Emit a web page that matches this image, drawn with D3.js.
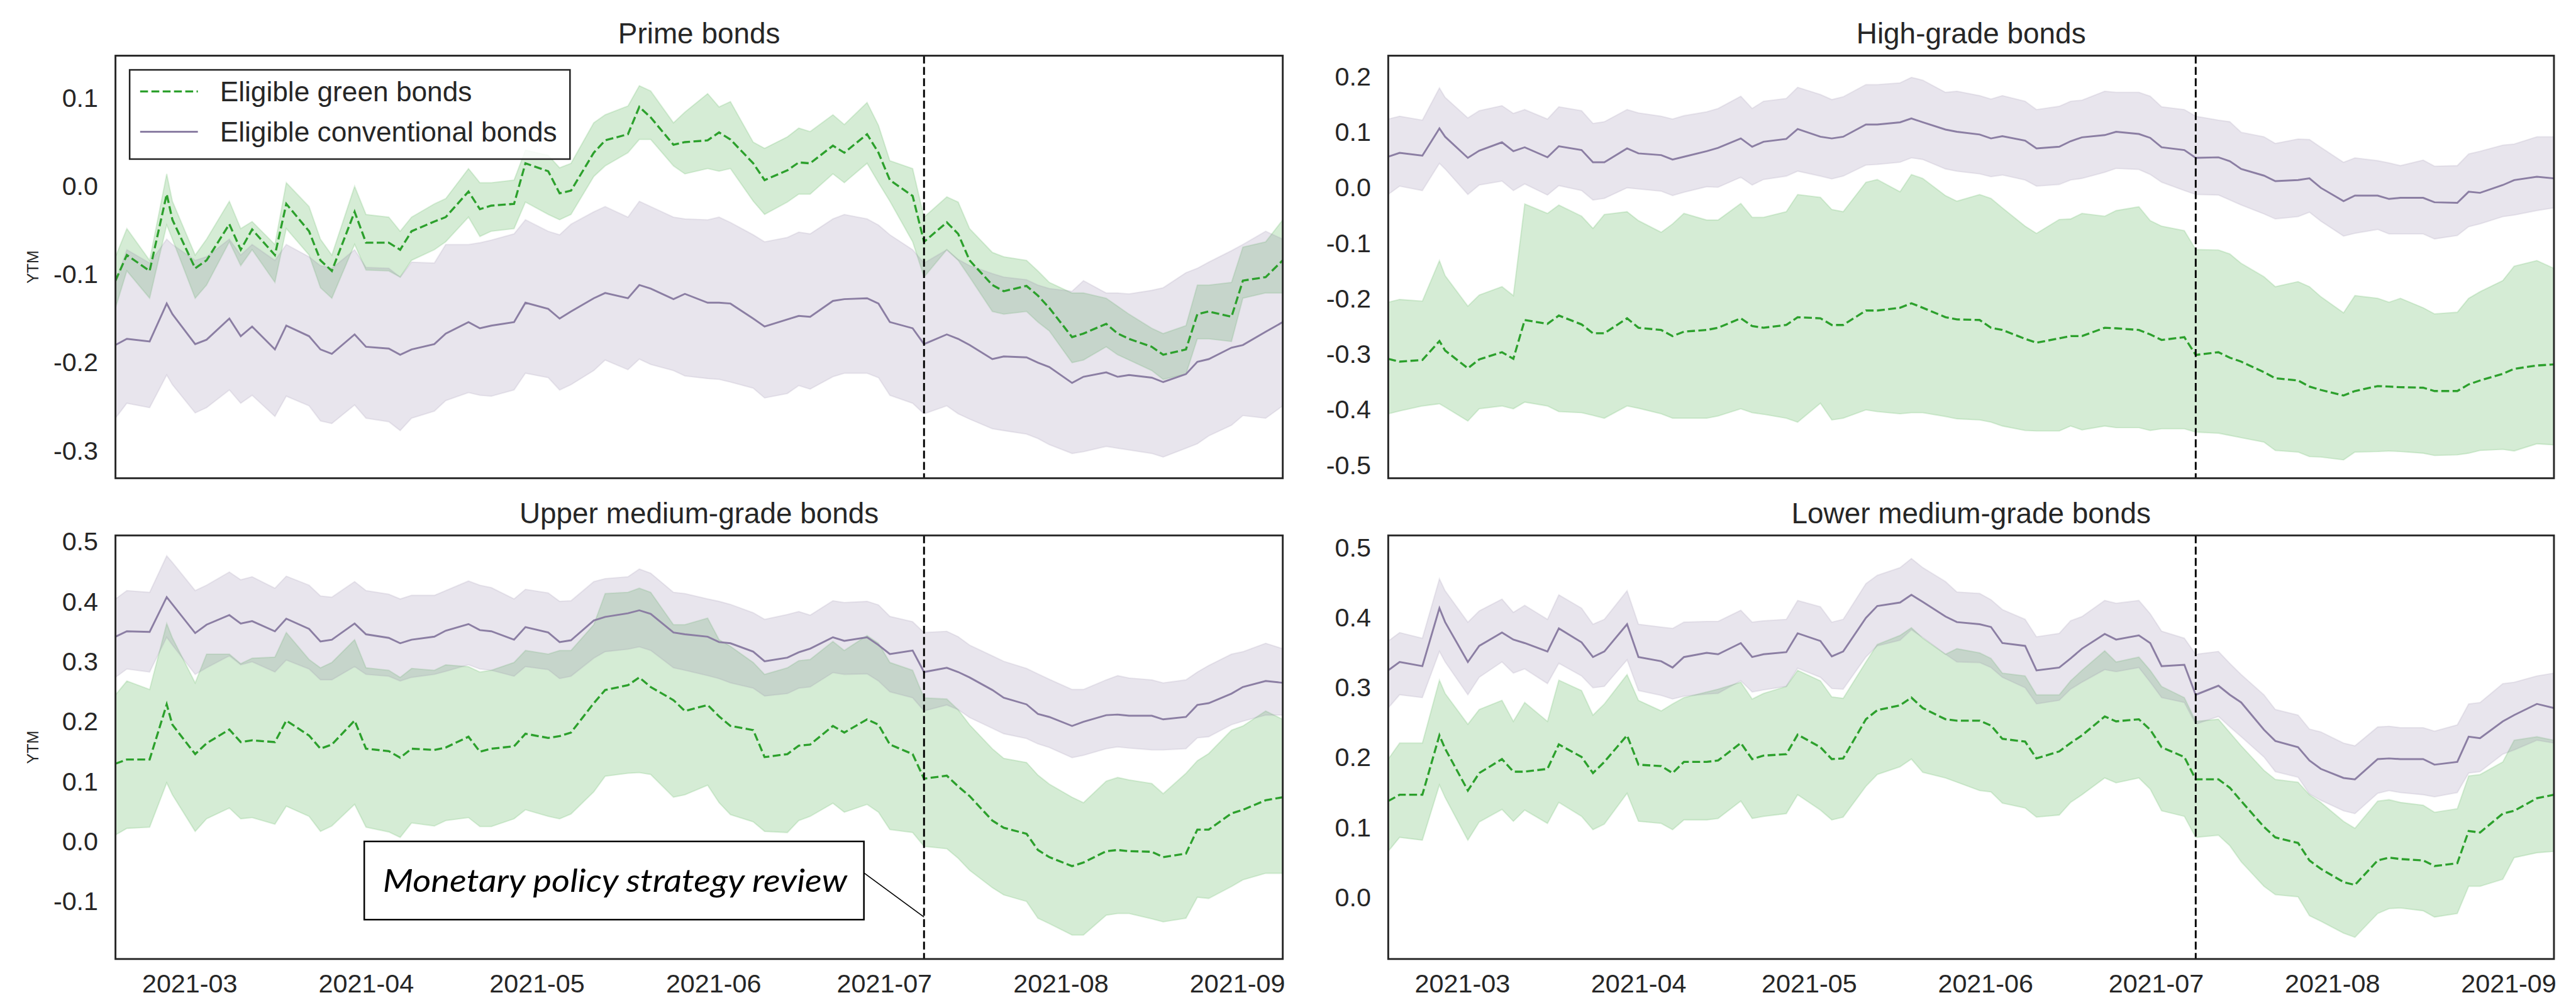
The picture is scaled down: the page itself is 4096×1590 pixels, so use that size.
<!DOCTYPE html>
<html>
<head>
<meta charset="utf-8">
<script src="https://cdn.jsdelivr.net/npm/d3@7"></script>
<style>
  body { margin: 0; background: #fff; }
  svg { display: block; }
</style>
</head>
<body>
<div id="chart"></div>
<script>
// sampled trading days (every other business day)
const dates = [
  '2021-02-16','2021-02-18','2021-02-22','2021-02-25','2021-02-26',
  '2021-03-02','2021-03-04','2021-03-08','2021-03-10','2021-03-12','2021-03-16','2021-03-18','2021-03-22','2021-03-24','2021-03-26','2021-03-30',
  '2021-04-01','2021-04-05','2021-04-07','2021-04-09','2021-04-13','2021-04-15','2021-04-19','2021-04-21','2021-04-23','2021-04-27','2021-04-29',
  '2021-05-03','2021-05-05','2021-05-07','2021-05-11','2021-05-13','2021-05-17','2021-05-19','2021-05-21','2021-05-25','2021-05-27','2021-05-31',
  '2021-06-02','2021-06-04','2021-06-08','2021-06-10','2021-06-14','2021-06-16','2021-06-18','2021-06-22','2021-06-24','2021-06-28','2021-06-30',
  '2021-07-02','2021-07-06','2021-07-08','2021-07-12','2021-07-14','2021-07-16','2021-07-20','2021-07-22','2021-07-26','2021-07-28','2021-07-30',
  '2021-08-03','2021-08-05','2021-08-09','2021-08-11','2021-08-13','2021-08-17','2021-08-19','2021-08-23','2021-08-25','2021-08-27','2021-08-31',
  '2021-09-02','2021-09-06','2021-09-09'
];
const monthTicks = ['2021-03-01','2021-04-01','2021-05-01','2021-06-01','2021-07-01','2021-08-01','2021-09-01'];
const policyDate = '2021-07-08';
const seriesNames = ['Eligible green bonds', 'Eligible conventional bonds'];
const panelTitles = ['Prime bonds', 'High-grade bonds', 'Upper medium-grade bonds', 'Lower medium-grade bonds'];
const annotationText = 'Monetary policy strategy review';

// Prime bonds
const primeGreenMean = [-0.107,-0.078,-0.096,-0.009,-0.038,
  -0.093,-0.084,-0.043,-0.072,-0.049,-0.078,-0.020,-0.051,-0.084,-0.096,-0.029,
  -0.064,-0.064,-0.072,-0.051,-0.040,-0.035,-0.006,-0.026,-0.022,-0.020,0.026,
  0.017,-0.008,-0.005,0.038,0.052,0.059,0.090,0.078,0.047,0.050,0.052,
  0.061,0.053,0.026,0.007,0.018,0.027,0.026,0.046,0.038,0.059,0.038,
  0.007,-0.011,-0.063,-0.041,-0.054,-0.084,-0.112,-0.119,-0.113,-0.124,-0.138,
  -0.171,-0.167,-0.156,-0.167,-0.173,-0.182,-0.191,-0.185,-0.145,-0.142,-0.148,
  -0.107,-0.103,-0.084];
const primeGreenHi = [-0.080,-0.048,-0.084,0.014,-0.017,
  -0.078,-0.060,-0.017,-0.048,-0.040,-0.066,0.004,-0.023,-0.060,-0.078,0.000,
  -0.032,-0.035,-0.051,-0.035,-0.020,-0.014,0.020,0.004,0.004,0.007,0.041,
  0.035,0.021,0.026,0.072,0.081,0.091,0.114,0.108,0.072,0.084,0.105,
  0.090,0.096,0.050,0.043,0.056,0.066,0.062,0.081,0.070,0.095,0.069,
  0.029,0.020,-0.035,-0.012,-0.018,-0.048,-0.075,-0.080,-0.084,-0.096,-0.109,
  -0.121,-0.121,-0.127,-0.136,-0.145,-0.161,-0.167,-0.158,-0.112,-0.112,-0.109,
  -0.069,-0.063,-0.038];
const primeGreenLo = [-0.138,-0.096,-0.127,-0.044,-0.060,
  -0.127,-0.112,-0.063,-0.090,-0.072,-0.109,-0.048,-0.078,-0.115,-0.127,-0.066,
  -0.095,-0.096,-0.103,-0.084,-0.072,-0.063,-0.035,-0.057,-0.051,-0.048,-0.018,
  -0.032,-0.038,-0.032,0.011,0.023,0.038,0.053,0.053,0.023,0.014,0.020,
  0.017,0.020,-0.017,-0.032,-0.018,-0.009,-0.009,0.014,0.004,0.026,0.004,
  -0.017,-0.063,-0.103,-0.072,-0.084,-0.103,-0.142,-0.145,-0.142,-0.154,-0.164,
  -0.200,-0.197,-0.182,-0.191,-0.197,-0.209,-0.219,-0.213,-0.173,-0.173,-0.176,
  -0.127,-0.121,-0.121];
const primeConvMean = [-0.180,-0.173,-0.176,-0.133,-0.145,
  -0.179,-0.174,-0.150,-0.170,-0.159,-0.185,-0.158,-0.170,-0.185,-0.190,-0.168,
  -0.182,-0.184,-0.191,-0.185,-0.179,-0.167,-0.154,-0.161,-0.158,-0.154,-0.132,
  -0.139,-0.150,-0.142,-0.127,-0.121,-0.127,-0.112,-0.116,-0.128,-0.122,-0.132,
  -0.132,-0.133,-0.150,-0.159,-0.151,-0.147,-0.148,-0.130,-0.128,-0.127,-0.133,
  -0.154,-0.161,-0.179,-0.168,-0.173,-0.180,-0.196,-0.193,-0.194,-0.200,-0.205,
  -0.223,-0.216,-0.211,-0.216,-0.214,-0.217,-0.222,-0.213,-0.199,-0.196,-0.183,
  -0.180,-0.165,-0.154];
const primeConvHi = [-0.109,-0.072,-0.087,-0.060,-0.066,
  -0.084,-0.080,-0.060,-0.078,-0.066,-0.084,-0.066,-0.080,-0.090,-0.093,-0.072,
  -0.092,-0.093,-0.103,-0.086,-0.087,-0.066,-0.066,-0.064,-0.061,-0.054,-0.038,
  -0.051,-0.055,-0.043,-0.029,-0.023,-0.035,-0.017,-0.023,-0.035,-0.037,-0.038,
  -0.035,-0.041,-0.055,-0.063,-0.058,-0.052,-0.054,-0.037,-0.032,-0.037,-0.044,
  -0.055,-0.072,-0.087,-0.072,-0.083,-0.090,-0.099,-0.103,-0.106,-0.112,-0.116,
  -0.119,-0.107,-0.121,-0.121,-0.122,-0.118,-0.115,-0.098,-0.093,-0.086,-0.073,
  -0.066,-0.051,-0.060];
const primeConvLo = [-0.263,-0.246,-0.251,-0.214,-0.225,
  -0.257,-0.251,-0.231,-0.246,-0.237,-0.261,-0.238,-0.249,-0.266,-0.269,-0.248,
  -0.263,-0.267,-0.277,-0.263,-0.255,-0.243,-0.234,-0.237,-0.238,-0.231,-0.212,
  -0.217,-0.231,-0.225,-0.209,-0.197,-0.208,-0.196,-0.202,-0.209,-0.215,-0.218,
  -0.219,-0.222,-0.229,-0.240,-0.235,-0.226,-0.230,-0.216,-0.212,-0.212,-0.217,
  -0.237,-0.246,-0.258,-0.249,-0.258,-0.264,-0.275,-0.277,-0.281,-0.286,-0.293,
  -0.303,-0.301,-0.295,-0.297,-0.299,-0.303,-0.307,-0.297,-0.292,-0.283,-0.271,
  -0.260,-0.263,-0.249];

// High-grade bonds
const highGreenMean = [-0.308,-0.313,-0.310,-0.276,-0.293,
  -0.325,-0.309,-0.296,-0.308,-0.238,-0.245,-0.230,-0.246,-0.262,-0.262,-0.235,
  -0.252,-0.256,-0.267,-0.259,-0.256,-0.252,-0.235,-0.249,-0.252,-0.247,-0.233,
  -0.235,-0.247,-0.247,-0.221,-0.221,-0.216,-0.208,-0.216,-0.233,-0.237,-0.238,
  -0.252,-0.256,-0.272,-0.279,-0.271,-0.267,-0.267,-0.252,-0.253,-0.256,-0.264,
  -0.274,-0.269,-0.301,-0.296,-0.306,-0.313,-0.332,-0.343,-0.347,-0.358,-0.364,
  -0.374,-0.366,-0.357,-0.358,-0.359,-0.360,-0.366,-0.366,-0.354,-0.347,-0.335,
  -0.326,-0.320,-0.318];
const highGreenHi = [-0.206,-0.201,-0.204,-0.131,-0.158,
  -0.213,-0.193,-0.178,-0.194,-0.029,-0.046,-0.031,-0.051,-0.073,-0.048,-0.043,
  -0.059,-0.080,-0.065,-0.046,-0.058,-0.058,-0.028,-0.053,-0.053,-0.043,-0.012,
  -0.017,-0.039,-0.043,0.010,0.015,-0.007,0.024,0.017,-0.014,-0.024,-0.012,
  -0.019,-0.036,-0.069,-0.082,-0.057,-0.056,-0.046,-0.051,-0.041,-0.034,-0.059,
  -0.069,-0.077,-0.111,-0.112,-0.119,-0.136,-0.160,-0.178,-0.169,-0.178,-0.196,
  -0.225,-0.194,-0.199,-0.206,-0.199,-0.216,-0.227,-0.224,-0.199,-0.187,-0.167,
  -0.141,-0.131,-0.145];
const highGreenLo = [-0.407,-0.402,-0.393,-0.389,-0.395,
  -0.420,-0.398,-0.393,-0.398,-0.386,-0.393,-0.403,-0.405,-0.410,-0.415,-0.393,
  -0.397,-0.407,-0.415,-0.415,-0.415,-0.411,-0.398,-0.405,-0.408,-0.415,-0.422,
  -0.388,-0.418,-0.415,-0.400,-0.403,-0.407,-0.405,-0.405,-0.412,-0.416,-0.418,
  -0.422,-0.429,-0.437,-0.438,-0.438,-0.429,-0.436,-0.429,-0.432,-0.432,-0.437,
  -0.434,-0.434,-0.440,-0.442,-0.446,-0.450,-0.458,-0.473,-0.476,-0.484,-0.485,
  -0.490,-0.476,-0.475,-0.474,-0.475,-0.478,-0.482,-0.481,-0.478,-0.473,-0.471,
  -0.474,-0.461,-0.463];
const highConvMean = [0.056,0.063,0.058,0.107,0.092,
  0.054,0.067,0.082,0.066,0.073,0.055,0.075,0.068,0.046,0.046,0.071,
  0.062,0.059,0.051,0.056,0.066,0.072,0.089,0.074,0.083,0.088,0.106,
  0.092,0.089,0.092,0.114,0.114,0.118,0.125,0.118,0.105,0.101,0.096,
  0.089,0.093,0.085,0.071,0.074,0.084,0.091,0.095,0.101,0.097,0.090,
  0.073,0.068,0.054,0.055,0.048,0.034,0.022,0.012,0.014,0.017,0.000,
  -0.024,-0.014,-0.014,-0.020,-0.018,-0.018,-0.026,-0.027,-0.007,-0.009,0.005,
  0.014,0.020,0.017];
const highConvHi = [0.124,0.129,0.122,0.180,0.163,
  0.126,0.139,0.148,0.134,0.141,0.124,0.146,0.139,0.116,0.119,0.141,
  0.135,0.129,0.124,0.130,0.137,0.143,0.165,0.143,0.156,0.161,0.181,
  0.168,0.159,0.164,0.186,0.186,0.189,0.199,0.194,0.172,0.174,0.166,
  0.160,0.166,0.156,0.141,0.147,0.156,0.158,0.174,0.172,0.172,0.165,
  0.146,0.141,0.129,0.122,0.119,0.100,0.092,0.080,0.088,0.087,0.073,
  0.046,0.054,0.049,0.045,0.040,0.050,0.039,0.040,0.061,0.066,0.077,
  0.079,0.092,0.092];
const highConvLo = [-0.012,0.003,-0.005,0.044,0.034,
  -0.012,0.005,0.012,-0.005,0.007,-0.013,0.004,-0.005,-0.022,-0.019,0.000,
  -0.002,-0.006,-0.014,-0.008,0.002,0.001,0.019,0.005,0.015,0.021,0.030,
  0.021,0.016,0.021,0.041,0.042,0.046,0.054,0.051,0.034,0.030,0.025,
  0.020,0.023,0.014,0.003,0.006,0.014,0.017,0.028,0.035,0.033,0.024,
  0.010,-0.005,-0.012,-0.013,-0.022,-0.031,-0.047,-0.056,-0.052,-0.044,-0.060,
  -0.087,-0.082,-0.075,-0.083,-0.083,-0.083,-0.092,-0.086,-0.070,-0.065,-0.052,
  -0.049,-0.041,-0.036];

// Upper medium-grade bonds
const upperGreenMean = [0.130,0.137,0.137,0.229,0.195,
  0.146,0.164,0.187,0.166,0.169,0.166,0.202,0.177,0.155,0.162,0.202,
  0.155,0.151,0.140,0.155,0.153,0.157,0.175,0.150,0.155,0.159,0.180,
  0.173,0.176,0.182,0.231,0.253,0.261,0.274,0.258,0.236,0.218,0.228,
  0.209,0.193,0.186,0.141,0.146,0.160,0.162,0.193,0.182,0.204,0.195,
  0.162,0.146,0.105,0.110,0.092,0.076,0.035,0.023,0.013,-0.014,-0.026,
  -0.041,-0.035,-0.016,-0.014,-0.016,-0.017,-0.026,-0.020,0.020,0.020,0.047,
  0.053,0.069,0.074];
const upperGreenHi = [0.245,0.268,0.254,0.364,0.340,
  0.265,0.313,0.313,0.297,0.306,0.308,0.349,0.304,0.290,0.299,0.337,
  0.290,0.286,0.274,0.289,0.286,0.295,0.292,0.283,0.286,0.299,0.319,
  0.313,0.319,0.319,0.362,0.414,0.416,0.423,0.416,0.362,0.362,0.373,
  0.337,0.326,0.299,0.279,0.290,0.302,0.304,0.334,0.319,0.344,0.331,
  0.299,0.286,0.240,0.238,0.220,0.195,0.155,0.139,0.132,0.111,0.096,
  0.074,0.065,0.101,0.107,0.103,0.097,0.080,0.114,0.135,0.147,0.186,
  0.193,0.218,0.204];
const upperGreenLo = [0.011,0.022,0.024,0.098,0.078,
  0.017,0.038,0.056,0.038,0.040,0.029,0.059,0.042,0.017,0.026,0.062,
  0.024,0.016,0.007,0.031,0.026,0.035,0.040,0.025,0.025,0.038,0.053,
  0.042,0.038,0.046,0.083,0.109,0.114,0.115,0.112,0.074,0.078,0.094,
  0.065,0.045,0.033,0.017,0.015,0.035,0.042,0.064,0.049,0.062,0.049,
  0.020,0.015,-0.008,-0.012,-0.028,-0.048,-0.077,-0.089,-0.100,-0.128,-0.137,
  -0.156,-0.156,-0.123,-0.120,-0.120,-0.129,-0.134,-0.128,-0.093,-0.095,-0.075,
  -0.064,-0.053,-0.053];
const upperConvMean = [0.342,0.351,0.350,0.408,0.396,
  0.348,0.362,0.378,0.364,0.368,0.351,0.372,0.355,0.334,0.337,0.364,
  0.346,0.340,0.331,0.337,0.342,0.352,0.363,0.353,0.351,0.337,0.358,
  0.349,0.333,0.336,0.369,0.375,0.381,0.386,0.380,0.349,0.346,0.342,
  0.333,0.331,0.317,0.301,0.307,0.316,0.322,0.341,0.335,0.341,0.328,
  0.313,0.319,0.283,0.290,0.283,0.274,0.253,0.240,0.229,0.213,0.208,
  0.193,0.200,0.211,0.212,0.210,0.210,0.204,0.208,0.228,0.231,0.247,
  0.258,0.268,0.265];
const upperConvHi = [0.405,0.419,0.416,0.477,0.466,
  0.419,0.428,0.450,0.437,0.442,0.423,0.443,0.428,0.410,0.408,0.434,
  0.419,0.413,0.405,0.411,0.411,0.419,0.435,0.428,0.424,0.405,0.421,
  0.415,0.401,0.402,0.434,0.439,0.442,0.455,0.448,0.416,0.414,0.405,
  0.401,0.396,0.382,0.371,0.379,0.384,0.378,0.402,0.399,0.401,0.395,
  0.376,0.367,0.349,0.351,0.342,0.328,0.310,0.301,0.289,0.280,0.271,
  0.254,0.254,0.270,0.277,0.273,0.270,0.265,0.270,0.283,0.294,0.313,
  0.317,0.331,0.322];
const upperConvLo = [0.274,0.288,0.283,0.341,0.328,
  0.279,0.290,0.310,0.295,0.300,0.283,0.303,0.288,0.270,0.270,0.292,
  0.279,0.276,0.268,0.274,0.279,0.284,0.295,0.288,0.286,0.276,0.292,
  0.287,0.272,0.276,0.306,0.317,0.321,0.325,0.319,0.290,0.286,0.277,
  0.272,0.265,0.256,0.243,0.247,0.256,0.258,0.282,0.279,0.280,0.268,
  0.250,0.240,0.218,0.228,0.220,0.207,0.189,0.180,0.172,0.163,0.157,
  0.140,0.144,0.155,0.158,0.156,0.153,0.153,0.155,0.173,0.175,0.195,
  0.201,0.211,0.211];

// Lower medium-grade bonds
const lowerGreenMean = [0.138,0.147,0.147,0.232,0.213,
  0.153,0.178,0.198,0.180,0.180,0.184,0.219,0.201,0.178,0.194,0.232,
  0.190,0.188,0.178,0.194,0.194,0.196,0.221,0.198,0.203,0.205,0.233,
  0.215,0.198,0.199,0.255,0.268,0.275,0.286,0.271,0.255,0.253,0.253,
  0.246,0.227,0.223,0.199,0.209,0.221,0.232,0.259,0.252,0.255,0.240,
  0.215,0.201,0.169,0.169,0.157,0.138,0.101,0.086,0.078,0.053,0.041,
  0.022,0.018,0.053,0.057,0.055,0.053,0.045,0.049,0.095,0.093,0.120,
  0.124,0.142,0.147];
const lowerGreenHi = [0.198,0.221,0.221,0.311,0.292,
  0.248,0.269,0.282,0.252,0.279,0.252,0.311,0.296,0.261,0.277,0.319,
  0.282,0.267,0.277,0.286,0.294,0.298,0.308,0.284,0.292,0.302,0.325,
  0.310,0.287,0.285,0.337,0.362,0.375,0.386,0.371,0.348,0.356,0.350,
  0.342,0.321,0.317,0.290,0.290,0.310,0.325,0.353,0.337,0.344,0.325,
  0.302,0.286,0.252,0.255,0.236,0.217,0.182,0.169,0.165,0.147,0.136,
  0.109,0.099,0.138,0.140,0.136,0.132,0.122,0.127,0.174,0.176,0.194,
  0.225,0.230,0.225];
const lowerGreenLo = [0.066,0.086,0.082,0.161,0.143,
  0.082,0.108,0.126,0.109,0.125,0.106,0.136,0.116,0.097,0.105,0.149,
  0.109,0.106,0.097,0.111,0.111,0.113,0.138,0.113,0.116,0.120,0.147,
  0.125,0.111,0.115,0.159,0.176,0.187,0.198,0.179,0.171,0.165,0.153,
  0.151,0.135,0.128,0.115,0.118,0.136,0.147,0.171,0.164,0.171,0.155,
  0.124,0.116,0.086,0.089,0.074,0.051,0.016,0.004,0.001,-0.026,-0.034,
  -0.051,-0.057,-0.023,-0.016,-0.015,-0.019,-0.028,-0.023,0.016,0.016,0.026,
  0.057,0.064,0.066];
const lowerConvMean = [0.325,0.337,0.331,0.414,0.394,
  0.337,0.360,0.379,0.369,0.364,0.352,0.385,0.365,0.344,0.352,0.391,
  0.344,0.338,0.329,0.344,0.350,0.348,0.364,0.344,0.348,0.351,0.378,
  0.367,0.345,0.352,0.400,0.417,0.422,0.433,0.423,0.402,0.394,0.391,
  0.387,0.364,0.360,0.325,0.329,0.342,0.356,0.377,0.369,0.375,0.364,
  0.331,0.333,0.290,0.303,0.290,0.279,0.240,0.224,0.215,0.196,0.184,
  0.171,0.169,0.198,0.199,0.198,0.198,0.190,0.194,0.230,0.228,0.252,
  0.261,0.277,0.271];
const lowerConvHi = [0.367,0.379,0.371,0.456,0.439,
  0.394,0.410,0.427,0.408,0.418,0.398,0.433,0.414,0.391,0.398,0.439,
  0.391,0.387,0.385,0.394,0.395,0.395,0.411,0.394,0.396,0.398,0.425,
  0.416,0.394,0.398,0.449,0.461,0.472,0.485,0.472,0.452,0.437,0.435,
  0.426,0.412,0.398,0.373,0.378,0.396,0.402,0.425,0.421,0.425,0.406,
  0.381,0.371,0.348,0.352,0.335,0.319,0.290,0.269,0.261,0.241,0.237,
  0.221,0.217,0.244,0.245,0.243,0.243,0.238,0.247,0.277,0.279,0.306,
  0.308,0.317,0.321];
const lowerConvLo = [0.271,0.290,0.286,0.352,0.337,
  0.290,0.315,0.337,0.321,0.327,0.306,0.335,0.317,0.300,0.302,0.340,
  0.296,0.289,0.284,0.288,0.291,0.292,0.310,0.294,0.297,0.302,0.328,
  0.315,0.299,0.298,0.344,0.360,0.368,0.383,0.372,0.348,0.337,0.336,
  0.329,0.315,0.300,0.277,0.282,0.298,0.308,0.326,0.323,0.329,0.308,
  0.286,0.279,0.248,0.259,0.244,0.230,0.201,0.180,0.172,0.148,0.139,
  0.124,0.120,0.149,0.153,0.150,0.147,0.144,0.150,0.178,0.180,0.205,
  0.211,0.225,0.221];

const yTicksPrime = [-0.3, -0.2, -0.1, 0.0, 0.1];
const yTicksHigh = [-0.5, -0.4, -0.3, -0.2, -0.1, 0.0, 0.1, 0.2];
const yTicksUpper = [-0.1, 0.0, 0.1, 0.2, 0.3, 0.4, 0.5];
const yTicksLower = [0.0, 0.1, 0.2, 0.3, 0.4, 0.5];

const parseDate = d3.timeParse('%Y-%m-%d');
const GREEN = '#2ca02c';
const PURPLE = '#8b7ea3';
const FONT = "'Liberation Sans', Arial, sans-serif";

// whole figure drawn in reference pixel space, scaled down by the viewBox
const svg = d3.select('#chart').append('svg')
  .attr('width', 4096)
  .attr('height', 1590)
  .attr('viewBox', '0 0 4908 1905');

svg.append('rect').attr('width', 4908).attr('height', 1905).attr('fill', '#fff');

class BandPanel {

  constructor(_config, data) {
    this.config = {
      id: _config.id,
      left: _config.left,
      top: _config.top,
      width: _config.width,
      height: _config.height,
      yDomain: _config.yDomain,
      yTicks: _config.yTicks,
      title: _config.title,
      showXAxis: _config.showXAxis,
      showYLabel: _config.showYLabel
    }
    this.data = data;
    this.initVis();
  }

  initVis() {
    let vis = this;
    const c = vis.config;

    vis.xScale = d3.scaleTime()
      .domain(d3.extent(dates, parseDate))
      .range([0, c.width]);

    vis.yScale = d3.scaleLinear()
      .domain(c.yDomain)
      .range([c.height, 0]);

    vis.chart = svg.append('g')
      .attr('transform', `translate(${c.left},${c.top})`);

    vis.chart.append('clipPath')
      .attr('id', `clip-${c.id}`)
      .append('rect')
      .attr('width', c.width)
      .attr('height', c.height);

    // title
    vis.chart.append('text')
      .attr('x', c.width / 2)
      .attr('y', -23)
      .attr('text-anchor', 'middle')
      .attr('font-family', FONT)
      .attr('font-size', 55)
      .attr('fill', '#262626')
      .text(c.title);

    // y axis
    vis.yAxis = d3.axisLeft(vis.yScale)
      .tickValues(c.yTicks)
      .tickFormat(d => d.toFixed(1))
      .tickSize(0)
      .tickPadding(33);

    vis.yAxisG = vis.chart.append('g').attr('class', 'axis y-axis');

    if (c.showXAxis) {
      vis.xAxis = d3.axisBottom(vis.xScale)
        .tickValues(monthTicks.map(parseDate))
        .tickFormat(d3.timeFormat('%Y-%m'))
        .tickSize(0)
        .tickPadding(28);
      vis.xAxisG = vis.chart.append('g')
        .attr('class', 'axis x-axis')
        .attr('transform', `translate(0,${c.height})`);
    }

    if (c.showYLabel) {
      vis.chart.append('text')
        .attr('transform', `translate(${73 - c.left},${c.height / 2}) rotate(-90)`)
        .attr('text-anchor', 'middle')
        .attr('font-family', FONT)
        .attr('font-size', 30)
        .attr('fill', '#262626')
        .text('YTM');
    }

    vis.plotG = vis.chart.append('g')
      .attr('clip-path', `url(#clip-${c.id})`);

    vis.renderVis();
  }

  renderVis() {
    let vis = this;
    const c = vis.config;

    const rows = dates.map((d, i) => ({
      date: parseDate(d),
      gMean: vis.data.greenMean[i], gLo: vis.data.greenLo[i], gHi: vis.data.greenHi[i],
      cMean: vis.data.convMean[i], cLo: vis.data.convLo[i], cHi: vis.data.convHi[i]
    }));

    const band = (lo, hi) => d3.area()
      .x(d => vis.xScale(d.date))
      .y0(d => vis.yScale(d[lo]))
      .y1(d => vis.yScale(d[hi]));

    const line = key => d3.line()
      .x(d => vis.xScale(d.date))
      .y(d => vis.yScale(d[key]));

    // confidence bands
    vis.plotG.append('path')
      .datum(rows)
      .attr('d', band('gLo', 'gHi'))
      .attr('fill', GREEN).attr('fill-opacity', 0.2)
      .attr('stroke', GREEN).attr('stroke-opacity', 0.15).attr('stroke-width', 2.5);

    vis.plotG.append('path')
      .datum(rows)
      .attr('d', band('cLo', 'cHi'))
      .attr('fill', PURPLE).attr('fill-opacity', 0.2)
      .attr('stroke', PURPLE).attr('stroke-opacity', 0.15).attr('stroke-width', 2.5);

    // mean lines
    vis.plotG.append('path')
      .datum(rows)
      .attr('d', line('gMean'))
      .attr('fill', 'none')
      .attr('stroke', GREEN)
      .attr('stroke-width', 4)
      .attr('stroke-dasharray', '15 6.5');

    vis.plotG.append('path')
      .datum(rows)
      .attr('d', line('cMean'))
      .attr('fill', 'none')
      .attr('stroke', PURPLE)
      .attr('stroke-width', 3.5);

    // strategy review date
    const xp = vis.xScale(parseDate(policyDate));
    vis.chart.append('line')
      .attr('x1', xp).attr('x2', xp)
      .attr('y1', 0).attr('y2', c.height)
      .attr('stroke', '#000')
      .attr('stroke-width', 3.5)
      .attr('stroke-dasharray', '15 6.5');

    // frame
    vis.chart.append('rect')
      .attr('width', c.width)
      .attr('height', c.height)
      .attr('fill', 'none')
      .attr('stroke', '#262626')
      .attr('stroke-width', 3.5);

    vis.yAxisG.call(vis.yAxis);
    vis.yAxisG.select('.domain').remove();
    vis.yAxisG.selectAll('text')
      .attr('font-family', FONT)
      .attr('font-size', 49.5)
      .attr('fill', '#262626');

    if (c.showXAxis) {
      vis.xAxisG.call(vis.xAxis);
      vis.xAxisG.select('.domain').remove();
      vis.xAxisG.selectAll('text')
        .attr('font-family', FONT)
        .attr('font-size', 49.5)
        .attr('fill', '#262626');
    }
  }
}

const prime = new BandPanel({
  id: 'prime', left: 220, top: 106, width: 2224, height: 805,
  yDomain: [-0.331, 0.148], yTicks: yTicksPrime, title: panelTitles[0],
  showXAxis: false, showYLabel: true
}, {
  greenMean: primeGreenMean, greenLo: primeGreenLo, greenHi: primeGreenHi,
  convMean: primeConvMean, convLo: primeConvLo, convHi: primeConvHi
});

const high = new BandPanel({
  id: 'high', left: 2645, top: 106, width: 2221, height: 805,
  yDomain: [-0.523, 0.238], yTicks: yTicksHigh, title: panelTitles[1],
  showXAxis: false, showYLabel: false
}, {
  greenMean: highGreenMean, greenLo: highGreenLo, greenHi: highGreenHi,
  convMean: highConvMean, convLo: highConvLo, convHi: highConvHi
});

const upper = new BandPanel({
  id: 'upper', left: 220, top: 1020, width: 2224, height: 807,
  yDomain: [-0.196, 0.511], yTicks: yTicksUpper, title: panelTitles[2],
  showXAxis: true, showYLabel: true
}, {
  greenMean: upperGreenMean, greenLo: upperGreenLo, greenHi: upperGreenHi,
  convMean: upperConvMean, convLo: upperConvLo, convHi: upperConvHi
});

const lower = new BandPanel({
  id: 'lower', left: 2645, top: 1020, width: 2221, height: 807,
  yDomain: [-0.088, 0.518], yTicks: yTicksLower, title: panelTitles[3],
  showXAxis: true, showYLabel: false
}, {
  greenMean: lowerGreenMean, greenLo: lowerGreenLo, greenHi: lowerGreenHi,
  convMean: lowerConvMean, convLo: lowerConvLo, convHi: lowerConvHi
});

// legend (prime panel)
const legend = svg.append('g');
legend.append('rect')
  .attr('x', 247).attr('y', 133)
  .attr('width', 839).attr('height', 170)
  .attr('fill', '#fff').attr('fill-opacity', 0.85)
  .attr('stroke', '#222').attr('stroke-width', 3);
legend.append('line')
  .attr('x1', 267).attr('x2', 377).attr('y1', 174).attr('y2', 174)
  .attr('stroke', GREEN).attr('stroke-width', 4).attr('stroke-dasharray', '15 6.5');
legend.append('line')
  .attr('x1', 267).attr('x2', 377).attr('y1', 251).attr('y2', 251)
  .attr('stroke', PURPLE).attr('stroke-width', 3.5);
legend.selectAll('text.label')
  .data(seriesNames)
  .join('text')
  .attr('class', 'label')
  .attr('x', 419)
  .attr('y', (d, i) => 193 + i * 77)
  .attr('font-family', FONT)
  .attr('font-size', 53)
  .attr('fill', '#262626')
  .text(d => d);

// annotation in the upper medium-grade panel
const ann = svg.append('g');
const annX = upper.xScale(parseDate(policyDate)) + upper.config.left;
ann.append('line')
  .attr('x1', 1646).attr('y1', 1663)
  .attr('x2', annX).attr('y2', 1747)
  .attr('stroke', '#000').attr('stroke-width', 2);
ann.append('rect')
  .attr('x', 694).attr('y', 1603)
  .attr('width', 952).attr('height', 149)
  .attr('fill', '#fff')
  .attr('stroke', '#000').attr('stroke-width', 3);
ann.append('text')
  .attr('x', 1172).attr('y', 1699)
  .attr('text-anchor', 'middle')
  .attr('font-family', 'Lato, "Open Sans", sans-serif')
  .attr('font-style', 'italic')
  .attr('font-size', 60)
  .attr('textLength', 885)
  .attr('lengthAdjust', 'spacingAndGlyphs')
  .attr('fill', '#000')
  .text(annotationText);
</script>
</body>
</html>
